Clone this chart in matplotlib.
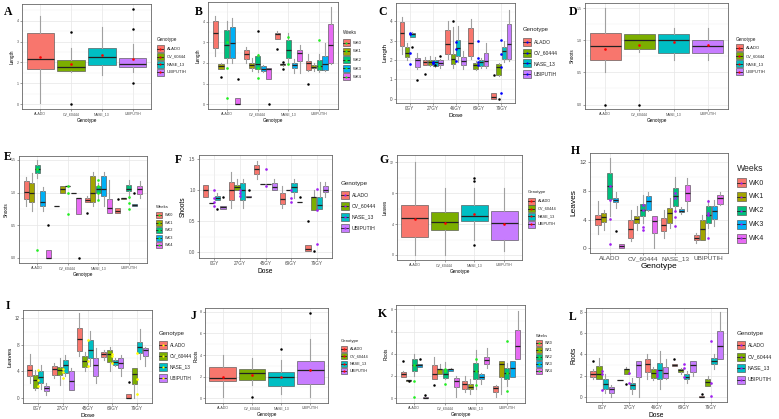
import numpy as np
import matplotlib
matplotlib.use('Agg')
import matplotlib.pyplot as plt
from matplotlib.patches import Rectangle
from matplotlib.ticker import AutoMinorLocator

plt.rcParams['font.family'] = ['Liberation Sans', 'DejaVu Sans']

W, H = 779, 419

GENO = ['ALADO', 'CV_60444', 'NASE_13', 'UBIPUTIH']
WEEKS = ['WK0', 'WK1', 'WK2', 'WK3', 'WK4']
DOSE = ['0GY', '27GY', '46GY', '69GY', '79GY']
DOSE_F = ['0GY', '27GY', '45GY', '69GY', '79GY']

COL4 = ['#F8766D', '#7CAE00', '#00BFC4', '#C77CFF']
COL5 = ['#F8766D', '#A3A500', '#00BF7D', '#00B0F6', '#E76BF3']

# box rows are [whisker low, q1, median, q3, whisker high]
# --- A: Length by genotype
A_box = [[0.05, 1.71, 2.15, 3.41, 4.23], [1.55, 1.61, 1.80, 2.12, 2.70],
         [1.42, 1.90, 2.27, 2.70, 3.70], [1.55, 1.79, 1.94, 2.23, 2.90]]
A_mean = [[2.26], [1.91], [2.38], [2.15]]
A_out = [[[]], [[3.48, 0.0]], [[]], [[4.58, 3.6, 1.0]]]

# --- B: Length by genotype x week
B_box = [
    [[2.34, 2.73, 3.47, 4.04, 4.31], [1.70, 1.71, 1.86, 1.97, 2.00], [2.02, 2.26, 2.89, 3.60, 4.03],
     [2.02, 2.26, 2.97, 3.76, 4.19], [0.0, 0.0, 0.02, 0.28, 0.28]],
    [[2.02, 2.18, 2.46, 2.65, 2.76], [1.63, 1.78, 1.90, 2.02, 2.22], [1.55, 1.71, 1.94, 2.34, 2.46],
     [1.55, 1.60, 1.71, 1.83, 1.90], [1.20, 1.23, 1.71, 1.75, 1.78]],
    [[3.18, 3.18, 3.40, 3.44, 3.55], [1.85, 1.90, 1.94, 1.97, 2.00], [1.94, 2.23, 2.62, 3.10, 3.44],
     [1.50, 1.74, 1.90, 2.02, 2.18], [1.50, 2.10, 2.50, 2.65, 2.89]],
    [[1.63, 1.66, 2.02, 2.10, 2.42], [1.63, 1.74, 1.82, 1.90, 2.02], [1.55, 1.68, 1.86, 2.13, 2.42],
     [1.60, 1.66, 1.94, 2.34, 2.97], [1.94, 2.02, 2.89, 3.92, 4.71]],
]
B_mean = [[3.0, 1.78, 0.28], [2.37, 1.78, 1.28], [3.25, 1.94], [3.13, 1.86]]
B_out = [[[], [1.31], [], [], [1.2]], [[], [], [3.55], [], [0.0]],
         [[2.69], [1.71, 2.05], [], [], []], [[0.96], [], [], [], []]]

# --- C: Length by dose x genotype
C_box = [
    [[2.31, 2.74, 3.38, 3.97, 4.22], [2.0, 2.15, 2.36, 2.65, 2.9], [3.16, 3.16, 3.33, 3.38, 3.45],
     [1.55, 1.64, 1.98, 2.09, 2.36]],
    [[1.72, 1.72, 1.89, 2.0, 2.14], [1.7, 1.76, 1.89, 2.0, 2.23], [1.65, 1.69, 1.89, 2.0, 2.14],
     [1.6, 1.72, 1.86, 1.98, 2.05]],
    [[2.06, 2.31, 2.85, 3.53, 4.0], [1.6, 1.81, 2.03, 2.31, 3.7], [1.9, 2.23, 2.6, 3.02, 3.75],
     [1.55, 1.76, 1.94, 2.15, 2.48]],
    [[2.06, 2.23, 2.9, 3.63, 4.09], [1.5, 1.55, 1.72, 1.84, 1.95], [1.6, 1.67, 1.89, 2.01, 2.1],
     [1.6, 1.67, 1.93, 2.35, 2.9]],
    [[0.0, 0.0, 0.08, 0.29, 0.29], [1.15, 1.22, 1.64, 1.8, 1.85], [1.9, 2.06, 2.48, 2.65, 2.99],
     [1.95, 2.06, 2.85, 3.87, 4.59]],
]
C_mean = [[3.38, 2.36, 3.33, 1.8], [1.9, 1.85, 1.86], [2.95, 1.97, 2.55], [2.99, 1.72, 1.89, 2.1],
          [0.29, 1.64, 2.31, 3.02]]
C_out = [[[], [], [2.65], [0.96]], [[1.3], [], [1.72], [2.23]], [[], [4.0], [], []],
         [[], [], [], []], [[1.22], [0.0], [], []]]

# --- D: Shoots by genotype
D_box = [[0.5, 0.70, 0.91, 1.12, 1.5], [0.82, 0.87, 1.01, 1.1, 1.1],
         [0.7, 0.8, 1.01, 1.1, 1.19], [0.7, 0.8, 0.91, 1.0, 1.19]]
D_mean = [[0.87], [0.92], [0.97], [0.92]]
D_out = [[[0.0]], [[0.0]], [[]], [[]]]

# --- E: Shoots by genotype x week
E_box = [
    [[0.8, 0.9, 1.01, 1.17, 1.24], [0.71, 0.85, 1.0, 1.15, 1.3], [1.22, 1.30, 1.36, 1.42, 1.5],
     [0.71, 0.79, 0.86, 1.02, 1.09], [0.0, 0.0, 0.0, 0.12, 0.12]],
    [[0.8, 0.8, 0.8, 0.8, 0.8], [1.0, 1.0, 1.05, 1.1, 1.1], [1.1, 1.1, 1.1, 1.1, 1.1],
     [1.0, 1.0, 1.0, 1.0, 1.0], [0.67, 0.67, 0.91, 0.91, 0.91]],
    [[0.85, 0.85, 0.89, 0.91, 0.95], [0.79, 0.85, 1.0, 1.25, 1.32], [0.9, 1.0, 1.05, 1.1, 1.15],
     [0.8, 0.95, 1.05, 1.25, 1.32], [0.69, 0.69, 0.76, 0.9, 1.19]],
    [[0.69, 0.69, 0.72, 0.76, 0.76], [0.9, 0.9, 0.91, 0.92, 0.92], [0.92, 1.02, 1.05, 1.12, 1.19],
     [0.8, 0.8, 0.81, 0.82, 0.82], [0.91, 0.98, 1.05, 1.1, 1.17]],
]
E_mean = [[1.36, 0.12], [1.1, 1.0, 0.67], [1.19, 1.1, 1.0, 0.89], [0.93, 0.84, 0.74]]
E_out = [[[], [], [], [], [0.5]], [[], [], [], [], [0.0]], [[0.69], [], [], [], []],
         [[0.9], [], [], [1.0], []]]

# --- F: Shoots by dose x genotype
F_box = [
    [[0.9, 0.9, 1.0, 1.09, 1.09], [0.8, 0.8, 0.8, 0.8, 0.8], [0.85, 0.85, 0.88, 0.91, 0.95],
     [0.7, 0.7, 0.73, 0.75, 0.75]],
    [[0.72, 0.85, 1.0, 1.13, 1.29], [1.0, 1.0, 1.06, 1.08, 1.18], [0.71, 0.85, 1.0, 1.12, 1.18],
     [0.89, 0.89, 0.9, 0.91, 0.91]],
    [[1.18, 1.27, 1.34, 1.41, 1.48], [1.11, 1.11, 1.11, 1.11, 1.11], [1.11, 1.11, 1.11, 1.11, 1.11],
     [1.0, 1.0, 1.06, 1.12, 1.18]],
    [[0.72, 0.78, 0.86, 0.96, 1.07], [1.0, 1.0, 1.0, 1.0, 1.0], [0.88, 0.97, 1.06, 1.12, 1.18],
     [0.82, 0.82, 0.82, 0.82, 0.82]],
    [[0.02, 0.02, 0.05, 0.12, 0.12], [0.68, 0.68, 0.89, 0.9, 1.01], [0.7, 0.7, 0.77, 0.9, 1.14],
     [0.9, 0.97, 1.01, 1.07, 1.14]],
]
F_mean = [[1.0, 0.88, 0.82, 0.75], [1.0, 0.96, 0.91], [1.34, 1.07], [1.01, 0.88, 0.82],
          [1.02, 0.68, 0.13]]
F_out = [[[], [], [0.7], [0.89]], [[], [], [], [1.0]], [[], [], [], []],
         [[], [], [], [0.9]], [[0.5], [0.02], [], []]]

# --- G: Leaves by genotype
G_box = [[0.0, 2.37, 4.75, 6.47, 12.1], [0.0, 3.24, 4.23, 5.6, 8.63],
         [2.0, 4.4, 5.09, 6.47, 8.63], [0.5, 1.94, 4.14, 5.7, 8.63]]
G_mean = [[4.66], [4.19], [5.35], [3.97]]
G_out = [[[]], [[]], [[10.0, 9.6, 1.29]], [[]]]

# --- H: Leaves by genotype x week
H_box = [
    [[2.05, 3.3, 4.14, 4.7, 6.56], [2.6, 3.63, 4.33, 4.93, 5.4], [4.47, 6.88, 8.74, 10.5, 12.6],
     [5.6, 6.42, 6.79, 7.0, 7.8], [0.0, 0.0, 0.28, 0.65, 0.65]],
    [[0.98, 1.44, 2.7, 4.0, 5.4], [2.6, 3.53, 4.14, 4.56, 5.86], [3.53, 4.47, 5.4, 6.19, 7.49],
     [5.2, 5.4, 6.56, 7.35, 7.81], [0.05, 2.14, 3.77, 4.56, 4.56]],
    [[1.44, 2.37, 3.3, 4.23, 5.4], [2.8, 3.53, 4.93, 5.63, 7.02], [5.2, 5.86, 7.35, 8.42, 10.0],
     [4.8, 5.02, 5.26, 5.49, 5.7], [5.26, 6.65, 7.72, 8.88, 9.81]],
    [[0.7, 1.21, 1.44, 1.81, 2.1], [1.21, 1.21, 2.7, 4.0, 4.7], [2.8, 3.53, 4.7, 5.86, 6.79],
     [3.07, 4.09, 5.16, 5.95, 6.79], [6.0, 6.19, 7.02, 7.49, 7.81]],
]
H_mean = [[8.74, 6.79, 4.14, 0.65], [6.1, 5.4, 3.0, 2.6], [7.72, 7.02, 5.26, 4.37, 3.16],
          [6.56, 4.93, 4.7, 1.44]]
H_out = [[[], [], [], [2.37], []], [[], [], [], [], []], [[], [], [], [], []], [[], [], [], [], []]]

# --- I: Leaves by dose x genotype
I_box = [
    [[2.25, 3.25, 4.15, 5.0, 6.65], [1.25, 1.5, 2.75, 3.5, 4.25], [1.3, 2.25, 3.15, 4.0, 5.0],
     [0.5, 1.1, 1.5, 1.85, 2.25]],
    [[3.0, 3.5, 4.35, 4.85, 5.25], [2.0, 3.5, 4.15, 4.65, 6.0], [3.25, 3.75, 5.0, 5.75, 6.5],
     [1.25, 1.25, 2.6, 4.0, 4.5]],
    [[6.25, 7.1, 8.85, 10.5, 12.75], [4.0, 4.65, 5.6, 6.25, 7.0], [4.75, 6.0, 7.25, 8.75, 10.1],
     [2.25, 3.25, 4.9, 6.0, 7.5]],
    [[5.75, 6.15, 6.65, 7.0, 7.25], [4.0, 5.35, 6.65, 7.25, 7.75], [4.75, 5.0, 5.35, 5.75, 6.0],
     [3.25, 4.5, 5.25, 6.0, 6.5]],
    [[0.0, 0.0, 0.0, 0.6, 0.6], [0.0, 2.1, 3.65, 4.5, 4.5], [5.85, 6.75, 7.65, 8.5, 10.35],
     [4.85, 6.25, 7.25, 7.5, 7.75]],
]
I_mean = [[4.25, 2.75, 1.75], [4.35, 3.85, 3.0], [8.75, 5.6, 4.85], [6.65, 6.35, 5.25],
          [6.85, 2.85, 0.65]]
I_out = [[[], [], [], []], [[], [], [], []], [[], [], [], []], [[], [], [], []],
         [[2.35], [], [], []]]

# --- J: Roots by genotype
J_box = [[0.06, 1.6, 1.91, 2.92, 3.97], [1.2, 1.66, 2.31, 2.68, 3.69],
         [0.37, 1.14, 2.0, 2.46, 3.54], [0.06, 1.35, 2.58, 3.45, 5.5]]
J_mean = [[2.0], [2.15], [1.97], [2.65]]
J_out = [[[]], [[0.06]], [[4.52]], [[7.9]]]

# --- K: Roots by genotype x week
K_box = [
    [[1.93, 1.93, 2.14, 2.35, 2.44], [1.52, 1.55, 1.6, 1.62, 1.64], [2.0, 2.44, 2.95, 3.48, 3.93],
     [2.83, 2.83, 2.95, 3.04, 3.04], [0.0, 0.0, 0.03, 0.1, 0.2]],
    [[1.7, 1.7, 2.2, 2.95, 3.72], [2.14, 2.14, 2.59, 2.65, 3.04], [1.7, 1.85, 2.2, 2.65, 3.24],
     [2.44, 2.44, 2.59, 2.65, 2.7], [0.06, 0.95, 1.55, 1.85, 1.97]],
    [[0.5, 0.8, 1.25, 1.55, 2.0], [0.36, 0.8, 1.04, 1.25, 1.7], [0.8, 1.7, 2.44, 3.18, 4.32],
     [1.25, 1.7, 1.93, 2.14, 2.3], [2.74, 3.04, 3.42, 3.72, 4.52]],
    [[0.06, 0.5, 0.86, 1.1, 1.16], [0.36, 1.93, 3.04, 3.33, 3.33], [1.1, 1.7, 2.29, 2.74, 3.18],
     [1.93, 1.93, 2.74, 3.33, 3.33], [3.54, 3.54, 4.67, 6.16, 7.89]],
]
K_mean = [[2.95, 1.55, 0.06], [2.59, 2.44, 1.25], [3.48, 2.44, 1.16], [5.18, 2.29, 0.65]]
K_out = [[[3.33], [1.5], [], [3.48], [0.27]], [[1.16], [], [], [], []],
         [[], [], [], [], []], [[], [], [], [], []]]

# --- L: Roots by dose x genotype
L_box = [
    [[1.66, 1.9, 2.19, 2.44, 2.6], [1.66, 1.66, 2.19, 2.9, 3.69], [0.4, 0.72, 1.25, 1.66, 2.12],
     [0.0, 0.41, 0.78, 0.94, 1.1]],
    [[1.6, 1.6, 1.6, 1.6, 1.6], [2.19, 2.19, 2.59, 2.66, 2.85], [0.31, 0.78, 1.09, 1.34, 1.81],
     [0.0, 1.9, 2.97, 3.37, 3.37]],
    [[1.66, 2.34, 3.06, 3.53, 4.09], [1.6, 1.81, 2.22, 2.59, 2.85], [0.72, 1.66, 2.53, 3.22, 4.31],
     [1.66, 1.81, 2.28, 2.84, 3.53]],
    [[2.9, 2.9, 2.97, 3.06, 3.06], [2.14, 2.34, 2.53, 2.66, 2.75], [1.34, 1.66, 1.9, 2.12, 2.44],
     [1.97, 2.34, 2.97, 3.37, 3.37]],
    [[0.0, 0.0, 0.0, 0.09, 0.09], [1.03, 1.03, 1.41, 1.72, 1.97], [2.59, 3.06, 3.37, 3.69, 4.0],
     [3.59, 3.59, 4.78, 6.19, 8.0]],
]
L_mean = [[2.44, 2.19, 0.62], [2.28, 1.28], [2.4, 2.2, 2.0], [3.06, 2.75, 1.9], [5.25, 1.28, 0.09]]
L_out = [[[3.37], [], [], []], [[], [1.25], [], []], [[], [], [], []], [[3.53], [], [], []],
         [[0.25], [], [], []]]

fig = plt.figure(figsize=(W / 100, H / 100), dpi=100)
ov = fig.add_axes([0, 0, 1, 1])
ov.set_xlim(0, W)
ov.set_ylim(H, 0)
ov.axis('off')


def frac(x0, y0, x1, y1):
    return [x0 / W, 1 - y1 / H, (x1 - x0) / W, (y1 - y0) / H]


def panel(rect, boxes, means, outs, cats, cols, mcol, ylim, yticks, ylabels,
          xlabel, ylabel, fs, lfs, ypad=1.5):
    ax = fig.add_axes(frac(*rect))
    ax.set_zorder(2)
    nh = len(boxes[0])
    step = 0.9 / nh
    bw = 0.9 if nh == 1 else step * 0.9
    for i, grp in enumerate(boxes):
        for j, r in enumerate(grp):
            pos = i + 1 + (j - (nh - 1) / 2) * step
            st = dict(whislo=r[0], q1=r[1], med=r[2], q3=r[3], whishi=r[4],
                      fliers=np.array(outs[i][j]))
            c = cols[i] if nh == 1 else cols[j]
            ax.bxp([st], positions=[pos], widths=bw, patch_artist=True,
                   showcaps=False, manage_ticks=False,
                   boxprops=dict(facecolor=c, edgecolor='#555555', linewidth=0.45),
                   medianprops=dict(color='#222222', linewidth=0.9),
                   whiskerprops=dict(color='#a0a0a0', linewidth=0.8),
                   flierprops=dict(marker='o', markerfacecolor='black', markeredgecolor='none',
                                   markersize=1.8))
        ax.plot([i + 1] * len(means[i]), means[i], 'o', color=mcol, ms=1.9, mec='none', zorder=5)
    ax.set_xlim(0.4, len(boxes) + 0.6)
    ax.set_ylim(*ylim)
    ax.set_xticks(range(1, len(boxes) + 1))
    ax.set_xticklabels(cats)
    ax.set_yticks(yticks)
    ax.set_yticklabels(ylabels)
    ax.yaxis.set_minor_locator(AutoMinorLocator(2))
    ax.set_axisbelow(True)
    ax.grid(True, which='major', color='#e6e6e6', linewidth=0.5)
    ax.grid(True, which='minor', axis='y', color='#f0f0f0', linewidth=0.35)
    for s in ax.spines.values():
        s.set_color('#666666')
        s.set_linewidth(0.6)
    ax.tick_params(which='major', length=1.5, width=0.4, color='#555555', labelsize=fs,
                   labelcolor='#4d4d4d', pad=1)
    ax.tick_params(which='minor', length=0)
    ax.set_xlabel(xlabel, fontsize=lfs, labelpad=1)
    ax.set_ylabel(ylabel, fontsize=lfs, labelpad=ypad)
    return ax


def legend(x, ty, y0, step, ks, title, labels, cols, mcol, fs, tfs):
    ov.text(x, ty, title, fontsize=tfs, va='center', ha='left', color='#222222')
    for k, (lab, c) in enumerate(zip(labels, cols)):
        yy = y0 + k * step
        ov.add_patch(Rectangle((x, yy - ks / 2), ks, ks, facecolor=c, edgecolor='#555555',
                               linewidth=0.45))
        ov.plot([x + 0.5, x + ks - 0.5], [yy, yy], color='#222222', lw=0.6)
        ov.plot(x + ks / 2, yy, 'o', color=mcol, ms=1.6, mec='none')
        ov.text(x + ks + 2.5, yy, lab, fontsize=fs, va='center', ha='left', color='#222222')


def letter(x, y, s):
    ov.text(x, y, s, fontsize=8.5, fontweight='bold', family='Liberation Serif',
            ha='center', va='center')


t4 = [0, 1, 2, 3, 4]
s4 = ['0', '1', '2', '3', '4']
t15 = [0, 0.5, 1.0, 1.5]
s15 = ['0.0', '0.5', '1.0', '1.5']
t12 = [0, 4, 8, 12]
s12 = ['0', '4', '8', '12']
t8 = [0, 2, 4, 6, 8]
s8 = ['0', '2', '4', '6', '8']

panel((22, 4, 151, 109), [[r] for r in A_box], A_mean, A_out, GENO, COL4, 'red',
      (-0.23, 4.8), t4, s4, 'Genotype', 'Length', 2.6, 3.3)
panel((208, 2, 338, 109), B_box, B_mean, B_out, GENO, COL5, '#22ee22',
      (-0.24, 4.97), t4, s4, 'Genotype', 'Length', 2.6, 3.3)
panel((396, 3, 515, 103), C_box, C_mean, C_out, DOSE, COL4, 'blue',
      (-0.22, 4.94), t4, s4, 'Dose', 'Length', 3.3, 4.5)
panel((585, 3, 728, 109), [[r] for r in D_box], D_mean, D_out, GENO, COL4, 'red',
      (-0.07, 1.58), t15, s15, 'Genotype', 'Shoots', 2.6, 3.3)
panel((19, 156, 147, 263), E_box, E_mean, E_out, GENO, COL5, '#22ee22',
      (-0.08, 1.56), t15, s15, 'Genotype', 'Shoots', 2.6, 3.3)
panel((199, 155, 332, 258), F_box, F_mean, F_out, DOSE_F, COL4, '#a020f0',
      (-0.09, 1.57), t15, s15, 'Dose', 'Shoots', 3.3, 4.8)
panel((397, 155, 522, 260), [[r] for r in G_box], G_mean, G_out, GENO, COL4, 'red',
      (-0.65, 12.95), t12, s12, 'Genotype', 'Leaves', 2.6, 3.3)
panel((590, 153, 728, 253), H_box, H_mean, H_out, GENO, COL5, '#a020f0',
      (-0.65, 13.3), t12, s12, 'Genotype', 'Leaves', 4.6, 6.0)
panel((23, 310, 152, 403), I_box, I_mean, I_out, DOSE_F, COL4, '#ffff00',
      (-0.75, 13.25), t12, s12, 'Dose', 'Leaves', 3.3, 4.5)
panel((205, 308, 328, 403), [[r] for r in J_box], J_mean, J_out, GENO, COL4, 'red',
      (-0.46, 8.37), t8, s8, 'Genotype', 'Roots', 2.6, 3.3, ypad=0.6)
panel((396, 305, 525, 403), K_box, K_mean, K_out, GENO, COL5, '#22ee22',
      (-0.45, 8.4), t8, s8, 'Genotype', 'Roots', 2.6, 3.3)
panel((586, 308, 727, 402), L_box, L_mean, L_out, DOSE, COL4, '#a020f0',
      (-0.47, 8.37), t8, s8, 'Dose', 'Roots', 3.3, 4.8)

legend(157, 40, 49, 7.7, 7, 'Genotype', GENO, COL4, 'red', 3.0, 3.3)
legend(343, 33, 43, 8.5, 7, 'Weeks', WEEKS, COL5, '#22ee22', 3.0, 3.3)
legend(523, 30, 42, 10.7, 8, 'Genotype', GENO, COL4, 'blue', 3.6, 4.3)
legend(736, 40, 48, 8.0, 7, 'Genotype', GENO, COL4, 'red', 3.0, 3.3)
legend(156, 207, 215, 7.5, 6, 'Weeks', WEEKS, COL5, '#22ee22', 2.8, 3.1)
legend(341, 183, 195, 11.0, 8, 'Genotype', GENO, COL4, '#a020f0', 3.7, 4.5)
legend(528, 192, 201, 7.7, 7, 'Genotype', GENO, COL4, 'red', 2.8, 3.1)
legend(737, 168, 183, 13.8, 9, 'Weeks', WEEKS, COL5, '#a020f0', 5.0, 6.2)
legend(159, 333, 345, 11.0, 8, 'Genotype', GENO, COL4, '#ffff00', 3.4, 4.3)
legend(341, 341, 349, 7.3, 6, 'Genotype', GENO, COL4, 'red', 2.8, 3.1)
legend(536, 336, 343, 7.0, 6, 'Weeks', WEEKS, COL5, '#22ee22', 2.6, 2.9)
legend(737, 333, 345, 11.5, 8, 'Genotype', GENO, COL4, '#a020f0', 3.7, 4.5)

for x, y, s in [(8, 12, 'A'), (199, 12, 'B'), (383, 12, 'C'), (573, 12, 'D'),
                (8, 157, 'E'), (178, 160, 'F'), (384, 160, 'G'), (575, 151, 'H'),
                (8, 306, 'I'), (193, 316, 'J'), (382, 314, 'K'), (573, 317, 'L')]:
    letter(x, y, s)

fig.savefig('out.png', dpi=100, facecolor='white')
